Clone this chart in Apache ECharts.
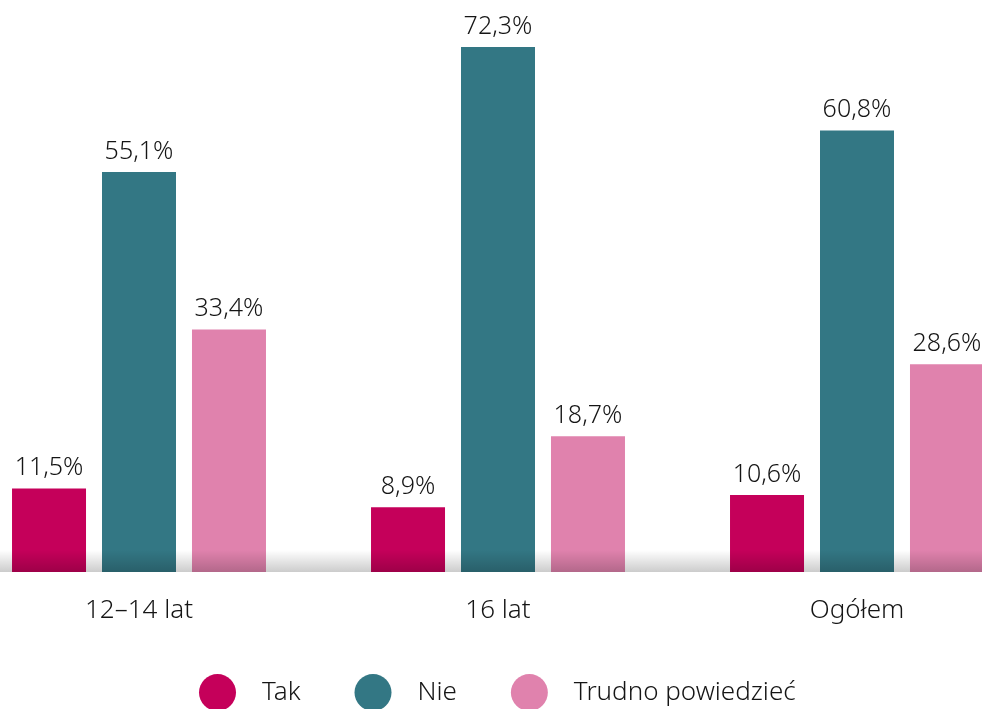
<!DOCTYPE html>
<html><head><meta charset="utf-8">
<script src="https://cdn.jsdelivr.net/npm/echarts@6/dist/echarts.min.js"></script>
<style>html,body{margin:0;padding:0;background:#fff}#c{width:982px;height:709px}</style>
</head><body><div id="c"></div>
<script>
const categories = ['12–14 lat', '16 lat', 'Ogółem'];
const seriesNames = ['Tak', 'Nie', 'Trudno powiedzieć'];
const takValues = [11.5, 8.9, 10.6];
const nieValues = [55.1, 72.3, 60.8];
const trudnoValues = [33.4, 18.7, 28.6];
const colors = ['#c5005a', '#337784', '#e082ad'];
const FONT = '"Noto Sans"';

const chart = echarts.init(document.getElementById('c'), null, {renderer: 'canvas'});
const fmt = p => p.value.toFixed(1).replace('.', ',') + '%';
function bar(name, data, color) {
  return {
    name, type: 'bar', data, barWidth: 74, barGap: '21.6%',
    itemStyle: {color},
    label: {show: true, position: 'top', distance: 8, formatter: fmt,
      color: '#151515', fontSize: 25, fontWeight: 300, fontFamily: FONT},
    emphasis: {disabled: true}
  };
}
chart.setOption({
  animation: false,
  backgroundColor: '#fff',
  grid: {left: -40.5, right: -54.5, top: 27.4, bottom: 137, containLabel: false, outerBoundsMode: 'none'},
  xAxis: {type: 'category', data: categories,
    axisLine: {show: false}, axisTick: {show: false},
    axisLabel: {color: '#151515', fontSize: 26, fontWeight: 300, fontFamily: FONT, margin: 26}},
  yAxis: {type: 'value', min: 0, max: 75, show: false, splitLine: {show: false}},
  legend: {bottom: -7, left: 194, icon: 'circle', itemWidth: 37, itemHeight: 37, itemGap: 54,
    textStyle: {color: '#151515', fontSize: 26, fontWeight: 300, fontFamily: FONT, padding: [0, 0, 0, 21]},
    data: seriesNames},
  series: [bar(seriesNames[0], takValues, colors[0]),
           bar(seriesNames[1], nieValues, colors[1]),
           bar(seriesNames[2], trudnoValues, colors[2])]
});
const base = chart.convertToPixel({yAxisIndex: 0}, 0);
chart.setOption({graphic: [{type: 'rect', z: 100, silent: true,
  shape: {x: 0, y: base - 22, width: 982, height: 22},
  style: {fill: new echarts.graphic.LinearGradient(0, 0, 0, 1, [
    {offset: 0, color: 'rgba(0,0,0,0)'}, {offset: 1, color: 'rgba(0,0,0,0.2)'}])}}]});
</script></body></html>
